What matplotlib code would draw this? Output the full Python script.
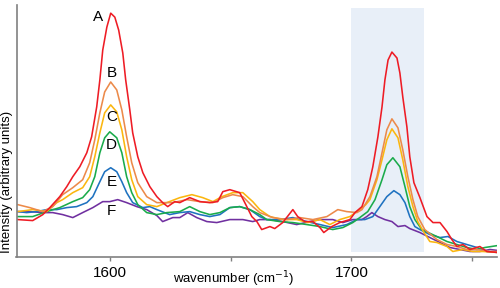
import matplotlib
matplotlib.use("Agg")
import matplotlib.pyplot as plt
from matplotlib.ticker import FixedLocator

plt.rcParams['font.family'] = ['Liberation Sans', 'DejaVu Sans']

# spectra (wavenumber in cm-1, intensity in arbitrary units)
wn_a = [1561.9, 1568.1, 1572.3, 1575.2, 1579.3, 1582.2, 1584.7, 1587.6, 1590.5, 1592.5,
        1594.6, 1595.9, 1597.1, 1598.8, 1600.4, 1602.1, 1603.7, 1605.4, 1606.6, 1608.3,
        1609.5, 1611.6, 1613.7, 1616.6, 1619.5, 1621.9, 1624.0, 1626.9, 1629.0, 1633.1,
        1637.3, 1641.4, 1644.7, 1646.8, 1649.7, 1653.8, 1655.9, 1658.8, 1660.9, 1662.9,
        1666.3, 1668.3, 1671.6, 1675.8, 1677.8, 1680.7, 1684.1, 1687.0, 1688.6, 1691.9,
        1695.2, 1699.4, 1701.5, 1704.4, 1706.8, 1708.9, 1711.0, 1712.7, 1713.9, 1715.2,
        1716.8, 1718.9, 1720.1, 1721.3, 1723.0, 1724.2, 1725.9, 1728.4, 1731.3, 1733.8,
        1736.7, 1739.6, 1741.6, 1743.7, 1746.2, 1749.1, 1753.2, 1756.1, 1760.7]
int_a = [38, 37, 43, 50, 61, 71, 81, 91, 105, 121,
         151, 178, 208, 231, 245, 241, 228, 205, 178, 148,
         125, 101, 85, 71, 61, 55, 51, 56, 55, 60,
         56, 55, 56, 66, 68, 65, 55, 41, 36, 28,
         31, 29, 35, 48, 41, 36, 36, 30, 25, 31,
         35, 38, 45, 51, 68, 91, 121, 151, 178, 198,
         206, 200, 185, 161, 131, 101, 75, 60, 41, 35,
         35, 26, 18, 11, 13, 8, 11, 6, 5]

wn_b = [1561.9, 1566.9, 1572.3, 1576.4, 1580.5, 1584.7, 1588.8, 1591.7, 1593.8, 1595.9,
        1597.9, 1600.4, 1602.9, 1605.0, 1607.0, 1609.1, 1611.6, 1615.3, 1619.5, 1626.1,
        1631.9, 1637.3, 1642.7, 1646.8, 1650.9, 1655.1, 1659.2, 1662.1, 1667.5, 1673.3,
        1678.7, 1684.1, 1689.9, 1694.4, 1698.1, 1702.3, 1704.4, 1707.7, 1710.6, 1712.7,
        1714.7, 1716.8, 1719.3, 1721.3, 1723.4, 1725.5, 1727.5, 1730.4, 1735.4, 1739.6,
        1743.7, 1747.8, 1752.0, 1757.4, 1760.7]
int_b = [53, 50, 46, 51, 63, 70, 78, 95, 118, 145,
         166, 176, 168, 148, 121, 95, 75, 61, 55, 55,
         58, 56, 55, 60, 63, 61, 51, 45, 40, 38,
         40, 38, 41, 48, 46, 45, 48, 61, 81, 105,
         128, 139, 130, 108, 81, 58, 41, 28, 18, 13,
         11, 8, 8, 6, 6]

wn_c = [1561.9, 1568.1, 1573.9, 1578.1, 1580.5, 1584.7, 1588.8, 1591.7, 1593.8, 1595.9,
        1597.9, 1600.4, 1602.9, 1605.0, 1607.0, 1609.1, 1611.6, 1615.3, 1619.5, 1623.6,
        1629.0, 1634.0, 1638.5, 1642.7, 1646.4, 1650.9, 1655.1, 1659.2, 1662.1, 1666.3,
        1671.6, 1677.4, 1682.0, 1687.0, 1691.1, 1695.2, 1699.4, 1703.5, 1706.0, 1707.7,
        1710.6, 1712.7, 1714.7, 1716.8, 1719.3, 1721.3, 1723.4, 1725.5, 1727.5, 1729.6,
        1732.5, 1735.4, 1739.6, 1742.0, 1746.2, 1750.3, 1754.5, 1760.7]
int_c = [46, 48, 46, 55, 58, 65, 70, 81, 101, 125,
         145, 153, 146, 128, 101, 78, 61, 53, 51, 55,
         60, 63, 60, 56, 61, 65, 65, 56, 48, 41,
         38, 38, 35, 38, 33, 38, 41, 48, 53, 58,
         78, 98, 118, 129, 120, 98, 71, 51, 36, 27,
         16, 15, 11, 6, 8, 6, 6, 5]

wn_d = [1561.9, 1568.1, 1573.9, 1579.3, 1584.7, 1588.8, 1591.7, 1593.8, 1595.9, 1597.9,
        1600.0, 1602.9, 1605.0, 1607.0, 1609.1, 1611.6, 1615.3, 1619.5, 1623.6, 1629.0,
        1633.1, 1637.3, 1641.4, 1645.6, 1649.7, 1653.8, 1658.0, 1662.1, 1665.0, 1670.4,
        1675.8, 1681.6, 1687.0, 1692.3, 1696.5, 1700.6, 1703.5, 1706.8, 1709.8, 1712.7,
        1714.7, 1717.2, 1720.1, 1722.2, 1724.2, 1726.3, 1729.2, 1735.4, 1739.6, 1743.7,
        1747.8, 1752.0, 1755.3, 1760.7]
int_d = [41, 41, 46, 50, 56, 60, 68, 81, 105, 120,
         126, 120, 105, 81, 65, 53, 45, 43, 45, 46,
         51, 46, 43, 45, 50, 51, 48, 43, 38, 36,
         35, 33, 31, 28, 30, 35, 40, 46, 58, 78,
         93, 100, 91, 71, 51, 38, 28, 21, 16, 13,
         10, 8, 10, 12]

wn_e = [1561.9, 1565.6, 1569.8, 1573.9, 1578.1, 1582.2, 1586.3, 1590.5, 1593.0, 1595.9,
        1597.9, 1600.4, 1602.9, 1605.0, 1607.0, 1609.5, 1613.7, 1616.6, 1619.5, 1624.8,
        1629.0, 1633.1, 1637.3, 1641.4, 1645.6, 1649.7, 1653.8, 1658.0, 1662.1, 1665.0,
        1670.4, 1675.8, 1681.6, 1687.0, 1692.3, 1698.1, 1702.3, 1705.6, 1708.9, 1711.8,
        1714.7, 1717.6, 1720.1, 1722.2, 1724.2, 1726.3, 1728.4, 1732.5, 1736.7, 1740.0,
        1743.7, 1747.8, 1752.0, 1756.1, 1760.7]
int_e = [46, 45, 46, 48, 48, 50, 51, 55, 61, 76,
         86, 90, 86, 76, 65, 55, 50, 51, 48, 43,
         45, 46, 43, 41, 43, 50, 51, 48, 41, 38,
         38, 40, 36, 33, 30, 33, 38, 38, 41, 51,
         61, 67, 63, 55, 41, 31, 28, 23, 20, 21,
         16, 13, 10, 6, 5]

wn_f = [1561.9, 1566.9, 1572.3, 1576.4, 1580.5, 1584.7, 1588.8, 1593.0, 1597.1, 1600.0,
        1603.3, 1607.0, 1611.2, 1615.3, 1619.5, 1621.9, 1626.1, 1629.0, 1632.3, 1636.0,
        1640.2, 1644.3, 1649.7, 1655.1, 1659.2, 1662.1, 1666.3, 1671.6, 1677.4, 1682.8,
        1687.0, 1692.3, 1696.5, 1700.6, 1704.4, 1706.4, 1708.5, 1711.0, 1713.9, 1716.8,
        1719.3, 1722.2, 1724.2, 1728.4, 1732.5, 1736.7, 1740.8, 1744.9, 1749.1, 1753.2,
        1757.4, 1760.7]
int_f = [46, 46, 45, 45, 43, 40, 45, 50, 56, 56,
         58, 55, 51, 48, 42, 36, 40, 40, 45, 40,
         36, 35, 38, 38, 36, 38, 38, 36, 33, 36,
         38, 38, 35, 38, 38, 41, 45, 41, 38, 36,
         31, 32, 29, 25, 20, 15, 10, 8, 6, 6,
         8, 7]

labels = ['A', 'B', 'C', 'D', 'E', 'F']
colors = ['#ee1c25', '#ec8a4a', '#fbb60f', '#1aab4b', '#1f72c0', '#7030a0']
band = (1700, 1730)

fig = plt.figure(figsize=(5, 2.88), dpi=100)
ax = fig.add_axes([0.033, 0.106, 0.961, 0.876])

ax.axvspan(band[0], band[1], ymin=0.02, ymax=0.99, color='#e8eff8', lw=0, zorder=0)

series = [(wn_f, int_f), (wn_e, int_e), (wn_d, int_d), (wn_c, int_c), (wn_b, int_b), (wn_a, int_a)]
for (x, y), c in zip(series, colors[::-1]):
    ax.plot(x, y, color=c, lw=1.15, zorder=2, solid_joinstyle='round', solid_capstyle='round')

# letters next to the first band
label_pos = [(1595.0, 241), (1600.8, 185), (1600.8, 141), (1600.8, 113), (1600.8, 76), (1600.8, 47)]
for lab, (x, y) in zip(labels, label_pos):
    ax.text(x, y, lab, ha='center', va='center', fontsize=11, color='black', zorder=3)

ax.set_xlim(1561.4, 1760.3)
ax.set_ylim(0, 253)
ax.set_yticks([])
ax.xaxis.set_major_locator(FixedLocator([1600, 1700]))
ax.xaxis.set_minor_locator(FixedLocator([1650, 1750]))
ax.tick_params(axis='x', which='both', direction='out', length=3, width=1, color='#808080',
               labelsize=11, pad=3)
for s in ['top', 'right']:
    ax.spines[s].set_visible(False)
for s in ['left', 'bottom']:
    ax.spines[s].set_color('#808080')
    ax.spines[s].set_linewidth(1.2)

ax.set_xlabel('wavenumber (cm$^{-1}$)', fontsize=9.5)
ax.xaxis.set_label_coords(0.452, -0.088)
ax.xaxis.label.set_va('center')
ax.set_ylabel('Intensity (arbitrary units)', fontsize=9.5)
ax.yaxis.set_label_coords(-0.02, 0.30)
ax.yaxis.label.set_va('center')

fig.savefig('out.png', dpi=100)
